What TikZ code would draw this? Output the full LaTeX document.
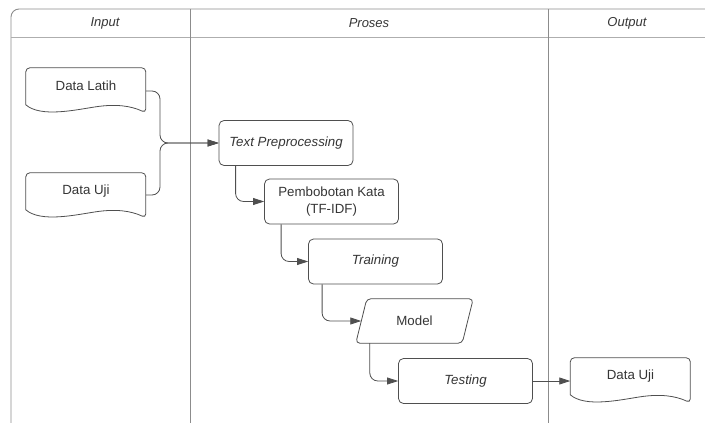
\documentclass[tikz,border=0pt]{standalone}
\usepackage{fontspec}
\setmainfont{Liberation Sans}
\usetikzlibrary{arrows.meta}
\definecolor{linegray}{HTML}{4F4F4F}
\definecolor{framegray}{HTML}{8C8C8C}
\definecolor{textgray}{HTML}{353535}
\tikzset{
  shapeline/.style={draw=linegray,line width=0.8pt},
  procbox/.style={shapeline,rounded corners=5pt,minimum width=134pt,minimum height=45pt,inner sep=0pt,text=textgray,font=\fontsize{13.3}{17}\selectfont,align=center},
  docnode/.style={minimum width=120pt,minimum height=36pt,inner sep=0pt,text=textgray,font=\fontsize{13.3}{17}\selectfont},
  headtxt/.style={text=textgray,font=\fontsize{13}{15}\selectfont\itshape},
  flow/.style={draw=linegray,line width=0.8pt,rounded corners=8pt,-{Triangle[length=11pt,width=7pt]}}
}
\newcommand{\docoutline}[1]{%
  \begin{scope}[shift={(#1.north west)}]
    \draw[shapeline] (0,37) [rounded corners=4pt] -- (0,0) -- (120,0) -- (120,45) [sharp corners]
      .. controls (105,38) and (90,36) .. (70,39) .. controls (50,42) and (15,50) .. (0,37) -- cycle;
  \end{scope}}
\begin{document}
\begin{tikzpicture}[x=1pt,y=-1pt]
      \useasboundingbox (0,0) rectangle (705,423);
      \clip (0,0) rectangle (705,423);
      \draw[framegray,line width=0.9pt,rounded corners=8pt] (11,9) rectangle (730,440);
      \draw[framegray!70,line width=0.9pt] (11,37) -- (730,37);
      \draw[framegray,line width=0.9pt] (190,9) -- (190,440);
      \draw[framegray,line width=0.9pt] (548,9) -- (548,440);
      \node[headtxt] (hin) at (105,23) {Input};
      \node[headtxt] (hpr) at (369,23) {Proses};
      \node[headtxt] (hout) at (627,23) {Output};
      \node[docnode] (dl) at (86,86) {Data Latih};
      \docoutline{dl}
      \node[docnode] (du) at (86,191) {Data Uji};
      \docoutline{du}
      \node[procbox] (tp) at (286,143) {\itshape Text Preprocessing};
      \node[procbox] (pk) at (331.5,201.5) {Pembobotan Kata\\(TF-IDF)};
      \node[procbox] (tr) at (375.5,261.5) {\itshape Training};
      \node[docnode,minimum width=117pt,minimum height=44pt] (md) at (414.5,321) {Model};
      \draw[shapeline,rounded corners=4pt] ([xshift=11pt]md.north west) -- (md.north east) -- ([xshift=-11pt]md.south east) -- (md.south west) -- cycle;
      \node[procbox] (tst) at (465.5,381) {\itshape Testing};
      \node[docnode] (od) at (630.5,376) {Data Uji};
      \docoutline{od}
      \coordinate (mrg) at (160,143);
      \draw[flow] ([yshift=-5pt]dl.east) -| (mrg) -- (tp.west);
      \draw[flow] ([yshift=-4pt]du.east) -| (mrg) -- (tp.west);
      \draw[flow] ([xshift=17pt]tp.south west) |- (pk.west);
      \draw[flow] ([xshift=17pt]pk.south west) |- (tr.west);
      \draw[flow] ([xshift=14pt]tr.south west) |- ([xshift=5.5pt]md.west);
      \draw[flow] ([xshift=14pt]md.south west) |- (tst.west);
      \draw[flow] (tst.east) -- (tst.east -| od.west);
    \end{tikzpicture}
\end{document}
